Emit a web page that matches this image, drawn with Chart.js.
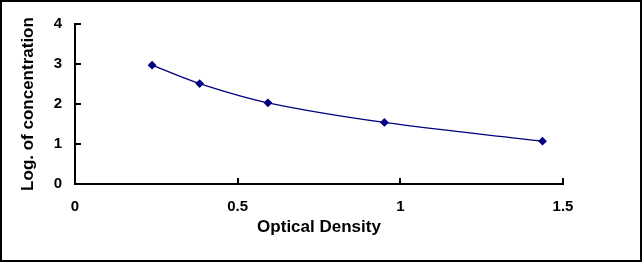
<!DOCTYPE html>
<html>
<head>
<meta charset="utf-8">
<script src="https://cdn.jsdelivr.net/npm/chart.js@4/dist/chart.umd.min.js"></script>
<style>
  html, body { margin: 0; padding: 0; background: #fff; }
  #wrap {
    width: 642px; height: 262px; box-sizing: border-box;
    border: 2px solid #000; background: #fff; position: relative;
  }
  #wrap canvas { display: block; }
</style>
</head>
<body>
<div id="wrap"><canvas id="chart" width="638" height="258"></canvas></div>
<script>
const opticalDensity = [0.237, 0.383, 0.593, 0.951, 1.437];
const logConcentration = [2.97, 2.51, 2.03, 1.54, 1.07];
const xTicks = [0, 0.5, 1, 1.5];
const yTicks = [0, 1, 2, 3, 4];

const points = opticalDensity.map((x, i) => ({ x: x, y: logConcentration[i] }));

const tickFont = { family: 'Liberation Sans, Arial, sans-serif', size: 15, weight: 'bold' };
const titleFont = { family: 'Liberation Sans, Arial, sans-serif', size: 17, weight: 'bold' };

// short tick marks pointing into the plot, like the original
const innerTicks = {
  id: 'innerTicks',
  afterDraw(chart) {
    const ctx = chart.ctx;
    const xs = chart.scales.x, ys = chart.scales.y;
    const area = chart.chartArea;
    ctx.save();
    ctx.strokeStyle = '#000';
    ctx.lineWidth = 2;
    ctx.beginPath();
    xTicks.forEach(v => {
      if (v === 0) return;
      const px = Math.round(xs.getPixelForValue(v));
      ctx.moveTo(px, area.bottom);
      ctx.lineTo(px, area.bottom - 6);
    });
    yTicks.forEach(v => {
      if (v === 0) return;
      const py = Math.round(ys.getPixelForValue(v));
      ctx.moveTo(area.left, py);
      ctx.lineTo(area.left + 6, py);
    });
    ctx.stroke();
    ctx.restore();
  }
};

new Chart(document.getElementById('chart'), {
  type: 'scatter',
  data: {
    datasets: [{
      data: points,
      showLine: true,
      borderColor: '#000080',
      backgroundColor: '#000080',
      borderWidth: 1.3,
      tension: 0.35,
      pointStyle: 'rectRot',
      pointRadius: 3.5,
      pointHoverRadius: 3.5
    }]
  },
  options: {
    responsive: false,
    animation: false,
    layout: { padding: { top: 18, right: 77, bottom: 0, left: 0 } },
    plugins: { legend: { display: false }, tooltip: { enabled: false } },
    scales: {
      x: {
        type: 'linear',
        min: 0, max: 1.5,
        afterBuildTicks: s => { s.ticks = xTicks.map(v => ({ value: v })); },
        afterFit: s => { s.height = 76; },
        grid: { display: false, drawTicks: false },
        border: { display: true, color: '#000', width: 2 },
        ticks: { color: '#000', font: tickFont, padding: 14, maxRotation: 0, callback: v => String(v) },
        title: { display: true, text: 'Optical Density', color: '#000', font: titleFont, padding: { top: 0, bottom: 22 } }
      },
      y: {
        type: 'linear',
        min: 0, max: 4,
        afterBuildTicks: s => { s.ticks = yTicks.map(v => ({ value: v })); },
        afterFit: s => { s.width = 73; },
        grid: { display: false, drawTicks: false },
        border: { display: true, color: '#000', width: 2 },
        ticks: { color: '#000', font: tickFont, padding: 13, callback: v => String(v) },
        title: { display: true, text: 'Log. of concentration', color: '#000', font: titleFont, padding: { top: 16, bottom: 0 } }
      }
    }
  },
  plugins: [innerTicks]
});
</script>
</body>
</html>
